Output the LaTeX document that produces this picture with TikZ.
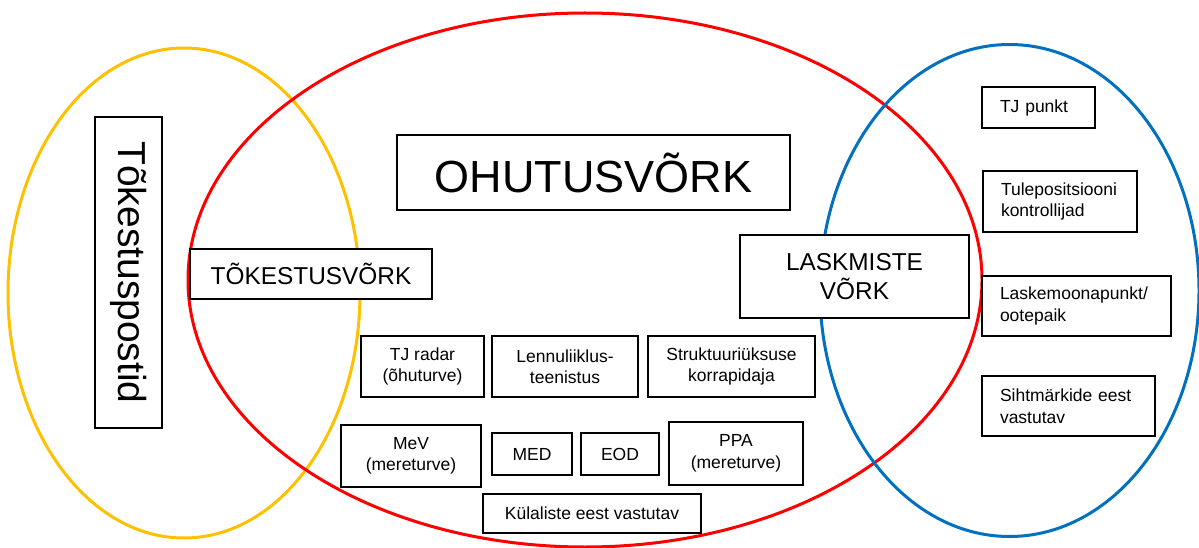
\documentclass[tikz,border=0pt]{standalone}
\usepackage{fontspec}
\setmainfont{Liberation Sans}
\definecolor{yel}{HTML}{FFC000}
\definecolor{redc}{HTML}{FF0000}
\definecolor{bluec}{HTML}{0070C0}
\newcommand{\smallf}{\fontsize{17.5}{21.5}\selectfont}
\newcommand{\midf}{\fontsize{24.4}{29.7}\selectfont}
\newcommand{\bigf}{\fontsize{45}{50}\selectfont}
\newcommand{\postf}{\fontsize{39}{44}\selectfont}
\begin{document}
\begin{tikzpicture}[x=1pt,y=-1pt,
  box/.style={draw=black, line width=2pt, fill=white, inner sep=0pt, align=center, font=\smallf},
  lbox/.style={box, align=left, inner xsep=18pt},
  ring/.style={line width=3pt}]
\useasboundingbox (0,0) rectangle (1199,548);
% circles
\draw[ring, draw=yel] (184,293) ellipse [x radius=176, y radius=245];
\draw[ring, draw=redc] (585,280) ellipse [x radius=397, y radius=267];
\draw[ring, draw=bluec] (1009.5,290.5) ellipse [x radius=189.5, y radius=246];
% boxes
\node[box, font=\postf, rotate=-90, minimum width=311pt, minimum height=67pt] (post) at (128.5,272.5) {Tõkestuspostid};
\node[box, font=\bigf, minimum width=393pt, minimum height=75pt] (ohutus) at (593.5,172.5) {OHUTUSVÕRK};
\node[box, font=\midf, minimum width=242pt, minimum height=50pt] (tokest) at (311,274) {TÕKESTUSVÕRK};
\node[box, font=\midf, minimum width=229pt, minimum height=83pt] (laskm) at (854.5,276.5) {LASKMISTE\\VÕRK};
\node[box, minimum width=123pt, minimum height=61pt] (radar) at (422.5,366.5) {TJ radar\\(õhuturve)};
\node[box, minimum width=146pt, minimum height=61pt] (lennu) at (565,366.5) {Lennuliiklus-\\teenistus};
\node[box, minimum width=167pt, minimum height=61pt] (strukt) at (731.5,366.5) {Struktuuriüksuse\\korrapidaja};
\node[box, minimum width=140pt, minimum height=62pt] (mev) at (411,456) {MeV\\(mereturve)};
\node[box, minimum width=80pt, minimum height=42pt] (med) at (532,454) {MED};
\node[box, minimum width=78pt, minimum height=42pt] (eod) at (620,454) {EOD};
\node[box, minimum width=134pt, minimum height=63pt] (ppa) at (736,453.5) {PPA\\(mereturve)};
\node[box, minimum width=218pt, minimum height=39pt] (kulal) at (592,513.5) {Külaliste eest vastutav};
\node[lbox, text width=77pt, minimum height=41pt] (tjp) at (1038.5,107.5) {TJ punkt};
\node[lbox, text width=118pt, minimum height=61pt] (tulep) at (1060,201.5) {Tulepositsiooni\\kontrollijad};
\node[lbox, text width=153pt, minimum height=60pt] (moon) at (1076.5,306) {Laskemoonapunkt/\\ootepaik};
\node[lbox, text width=137pt, minimum height=60pt] (siht) at (1068.5,406) {Sihtmärkide eest\\vastutav};
\end{tikzpicture}
\end{document}
